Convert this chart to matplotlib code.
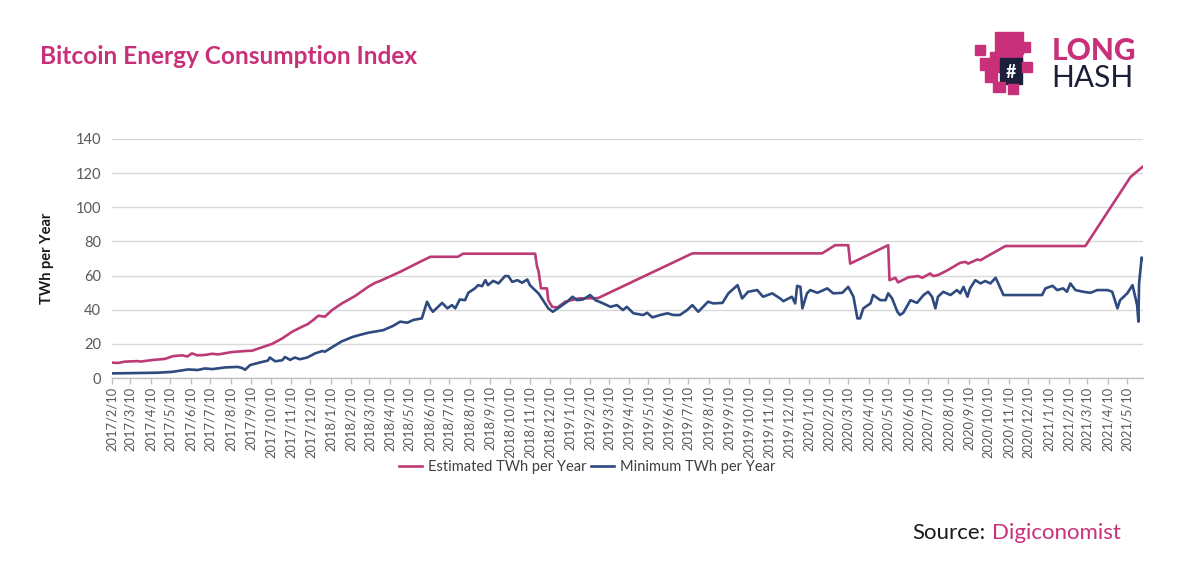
import matplotlib
matplotlib.use("Agg")
import matplotlib.pyplot as plt
import matplotlib.dates as mdates
from matplotlib.ticker import FuncFormatter
from matplotlib.patches import Rectangle
import pandas as pd

# ---------------- data ----------------
est_dates = [
    "2017-02-10", "2017-02-19", "2017-03-02", "2017-03-22", "2017-03-25", "2017-04-12",
    "2017-05-02", "2017-05-14", "2017-05-28", "2017-06-05", "2017-06-12", "2017-06-20",
    "2017-07-02", "2017-07-13", "2017-07-22", "2017-08-12", "2017-09-01", "2017-09-12",
    "2017-09-21", "2017-10-12", "2017-10-28", "2017-11-12", "2017-11-27", "2017-12-06",
    "2017-12-14", "2017-12-22", "2018-01-01", "2018-01-12", "2018-01-27", "2018-02-16",
    "2018-03-08", "2018-03-19", "2018-03-26", "2018-04-26", "2018-05-26", "2018-06-11",
    "2018-07-23", "2018-07-31", "2018-11-18", "2018-11-21", "2018-11-23", "2018-11-27",
    "2018-12-06", "2018-12-08", "2018-12-14", "2018-12-22", "2019-01-03", "2019-01-23",
    "2019-02-22", "2019-07-16", "2020-01-30", "2020-02-19", "2020-03-10", "2020-03-13",
    "2020-05-10", "2020-05-12", "2020-05-21", "2020-05-25", "2020-06-10", "2020-06-25",
    "2020-07-01", "2020-07-13", "2020-07-18", "2020-07-25", "2020-08-08", "2020-08-28",
    "2020-09-05", "2020-09-09", "2020-09-23", "2020-09-28", "2020-10-05", "2020-11-05",
    "2021-03-07", "2021-05-15", "2021-06-02",
]
est_values = [
    9.0, 8.8, 9.6, 9.9, 9.6, 10.5,
    11.2, 12.8, 13.3, 12.6, 14.4, 13.3,
    13.5, 14.2, 13.8, 15.2, 15.8, 16.0,
    17.2, 19.9, 23.2, 27.1, 30.0, 31.6,
    33.9, 36.5, 35.9, 39.8, 43.7, 48.0,
    53.4, 55.8, 56.8, 62.2, 68.0, 71.0,
    71.0, 72.8, 72.8, 65.0, 63.0, 52.5,
    52.5, 45.6, 41.7, 41.3, 44.7, 46.6,
    46.8, 73.0, 73.0, 77.8, 77.8, 67.0,
    77.8, 57.3, 58.7, 56.0, 59.0, 59.7,
    58.7, 61.2, 59.7, 60.3, 63.0, 67.5,
    68.0, 67.0, 69.4, 69.0, 70.6, 77.3,
    77.3, 117.8, 123.6,
]

min_dates = [
    "2017-02-10", "2017-03-02", "2017-04-21", "2017-05-13", "2017-06-06", "2017-06-21",
    "2017-07-02", "2017-07-13", "2017-08-02", "2017-08-21", "2017-08-28", "2017-09-01",
    "2017-09-09", "2017-09-27", "2017-10-06", "2017-10-09", "2017-10-17", "2017-10-28",
    "2017-11-01", "2017-11-09", "2017-11-16", "2017-11-24", "2017-12-05", "2017-12-17",
    "2017-12-28", "2018-01-01", "2018-01-14", "2018-01-27", "2018-02-12", "2018-02-21",
    "2018-03-08", "2018-03-31", "2018-04-15", "2018-04-26", "2018-05-07", "2018-05-16",
    "2018-05-29", "2018-06-06", "2018-06-11", "2018-06-15", "2018-06-29", "2018-07-07",
    "2018-07-14", "2018-07-19", "2018-07-26", "2018-08-03", "2018-08-08", "2018-08-18",
    "2018-08-23", "2018-08-29", "2018-09-03", "2018-09-07", "2018-09-15", "2018-09-23",
    "2018-10-03", "2018-10-08", "2018-10-14", "2018-10-22", "2018-10-29", "2018-11-06",
    "2018-11-10", "2018-11-15", "2018-11-23", "2018-11-30", "2018-12-08", "2018-12-15",
    "2018-12-26", "2019-01-06", "2019-01-14", "2019-01-21", "2019-01-30", "2019-02-10",
    "2019-02-18", "2019-02-28", "2019-03-13", "2019-03-23", "2019-04-01", "2019-04-07",
    "2019-04-17", "2019-05-02", "2019-05-08", "2019-05-16", "2019-05-28", "2019-06-08",
    "2019-06-17", "2019-06-27", "2019-07-08", "2019-07-16", "2019-07-25", "2019-08-09",
    "2019-08-17", "2019-08-31", "2019-09-09", "2019-09-23", "2019-09-30", "2019-10-09",
    "2019-10-23", "2019-11-01", "2019-11-15", "2019-11-27", "2019-12-02", "2019-12-15",
    "2019-12-20", "2019-12-23", "2019-12-28", "2019-12-31", "2020-01-07", "2020-01-12",
    "2020-01-23", "2020-02-07", "2020-02-16", "2020-03-01", "2020-03-10", "2020-03-18",
    "2020-03-24", "2020-03-28", "2020-04-02", "2020-04-13", "2020-04-17", "2020-04-28",
    "2020-05-06", "2020-05-10", "2020-05-16", "2020-05-24", "2020-05-28", "2020-06-02",
    "2020-06-13", "2020-06-23", "2020-07-03", "2020-07-10", "2020-07-16", "2020-07-21",
    "2020-07-25", "2020-08-02", "2020-08-13", "2020-08-23", "2020-08-28", "2020-09-02",
    "2020-09-08", "2020-09-12", "2020-09-20", "2020-09-28", "2020-10-05", "2020-10-13",
    "2020-10-21", "2020-10-25", "2020-11-02", "2020-12-31", "2021-01-05", "2021-01-16",
    "2021-01-23", "2021-02-01", "2021-02-07", "2021-02-12", "2021-02-20", "2021-03-04",
    "2021-03-15", "2021-03-25", "2021-04-10", "2021-04-17", "2021-04-25", "2021-04-29",
    "2021-05-10", "2021-05-18", "2021-05-22", "2021-05-25", "2021-05-27", "2021-05-28",
    "2021-06-01", "2021-06-02",
]
min_values = [
    2.7, 2.8, 3.1, 3.6, 5.0, 4.7,
    5.6, 5.2, 6.2, 6.5, 5.8, 4.8,
    7.6, 9.4, 10.2, 12.0, 9.8, 10.4,
    12.3, 10.6, 12.0, 11.0, 12.0, 14.4,
    15.8, 15.4, 18.5, 21.5, 24.0, 25.0,
    26.5, 28.0, 30.5, 33.0, 32.4, 34.0,
    34.9, 44.7, 40.8, 38.8, 44.0, 40.8,
    42.7, 40.8, 46.0, 45.6, 49.9, 52.5,
    54.4, 53.8, 57.3, 54.4, 56.9, 55.4,
    59.7, 59.7, 56.3, 57.3, 55.8, 57.7,
    54.4, 52.5, 49.6, 45.6, 40.8, 38.8,
    41.7, 44.7, 47.6, 45.6, 46.0, 48.6,
    45.6, 44.0, 41.7, 42.7, 39.8, 41.7,
    37.9, 36.9, 38.2, 35.5, 36.9, 37.9,
    36.9, 36.9, 39.8, 42.7, 38.8, 44.7,
    43.7, 44.0, 49.6, 54.4, 46.6, 50.5,
    51.5, 47.6, 49.6, 46.6, 45.0, 47.6,
    43.7, 54.0, 53.4, 40.8, 49.6, 51.5,
    49.9, 52.5, 49.6, 49.9, 53.4, 47.6,
    34.9, 34.9, 40.8, 43.7, 48.6, 45.6,
    45.6, 49.6, 46.6, 38.8, 36.9, 38.2,
    45.6, 44.0, 48.6, 50.5, 47.6, 40.8,
    47.6, 50.5, 48.6, 51.5, 49.6, 53.4,
    47.6, 52.5, 57.3, 55.4, 56.8, 55.4,
    58.7, 55.4, 48.6, 48.6, 52.5, 54.0,
    51.5, 52.5, 50.5, 55.4, 51.5, 50.5,
    49.9, 51.5, 51.5, 50.5, 40.8, 45.6,
    49.6, 54.4, 47.6, 42.7, 33.0, 55.4,
    70.6, 69.4,
]

series_names = ["Estimated TWh per Year", "Minimum TWh per Year"]
y_ticks = [0, 20, 40, 60, 80, 100, 120, 140]
x_start, x_end = "2017-02-10", "2021-06-03"

# ---------------- styling ----------------
PINK = "#C8317A"
RED_LINE = "#BC3A76"
BLUE_LINE = "#2E4A7E"
NAVY = "#1c1f3a"
GRID = "#D9D9D9"
TICK_TXT = "#595959"
FONT = ["Lato", "DejaVu Sans"]

plt.rcParams["font.family"] = FONT

fig = plt.figure(figsize=(12, 5.71), dpi=100)
ax = fig.add_axes([112 / 1200, 1 - 378 / 571, (1143 - 112) / 1200, (378 - 139) / 571])

ed = pd.to_datetime(est_dates)
md = pd.to_datetime(min_dates)
ax.plot(ed, est_values, color=RED_LINE, lw=1.9, label=series_names[0], solid_joinstyle="round", zorder=3)
ax.plot(md, min_values, color=BLUE_LINE, lw=1.9, label=series_names[1], solid_joinstyle="round", zorder=4)

ax.set_xlim(pd.Timestamp(x_start), pd.Timestamp(x_end))
ax.set_ylim(y_ticks[0], y_ticks[-1])
ax.set_yticks(y_ticks)
ax.yaxis.grid(True, color=GRID, lw=1.0)
ax.set_axisbelow(True)
for s in ["top", "right", "left"]:
    ax.spines[s].set_visible(False)
ax.spines["bottom"].set_color("#BFBFBF")
ax.spines["bottom"].set_linewidth(1.0)

ax.xaxis.set_major_locator(mdates.MonthLocator(bymonthday=10))
ax.xaxis.set_major_formatter(FuncFormatter(
    lambda v, p: (lambda d: f"{d.year}/{d.month}/{d.day}")(mdates.num2date(v))))
ax.tick_params(axis="x", rotation=90, labelsize=9.3, labelcolor=TICK_TXT,
               color="#BFBFBF", length=4, width=1, pad=2)
ax.tick_params(axis="y", labelsize=10.5, labelcolor=TICK_TXT, length=0, pad=8)

ax.set_ylabel("TWh per Year", fontsize=10.5, fontweight="bold", color="#1a1a1a")
ax.yaxis.set_label_coords(-0.056, 0.5)

fig.legend(loc="center", bbox_to_anchor=(587 / 1200, 1 - 467 / 571), ncol=2, frameon=False,
           fontsize=10.5, handlelength=1.6, handletextpad=0.35, columnspacing=0.35,
           labelcolor="#404040")

# title
fig.text(40 / 1200, 1 - 57 / 571, "Bitcoin Energy Consumption Index", color=PINK,
         fontsize=17.6, fontweight="bold", va="center", ha="left")

# source
src = fig.text(912 / 1200, 1 - 533 / 571, "Source:", color="#1a1a1a", fontsize=16,
               va="center", ha="left")
fig.canvas.draw()
bb = src.get_window_extent()
fig.text((bb.x1 + 7) / 1200, 1 - 533 / 571, "Digiconomist", color=PINK, fontsize=16,
         va="center", ha="left")

# logo text
fig.text(1052 / 1200, 1 - 51 / 571, "LONG", color=PINK, fontsize=21.5, fontweight="black",
         va="center", ha="left")
fig.text(1051 / 1200, 1 - 78 / 571, "HASH", color=NAVY, fontsize=21.5, fontweight="normal",
         va="center", ha="left")

# simple blocky logo mascot
blocks = [
    (995, 32, 28, 22, PINK), (1018, 42, 12, 10, PINK), (990, 52, 32, 20, PINK),
    (1000, 58, 22, 26, NAVY), (975, 45, 10, 10, PINK), (980, 58, 12, 12, PINK),
    (985, 70, 12, 12, PINK), (993, 82, 12, 10, PINK), (1008, 84, 10, 10, PINK),
    (1022, 62, 10, 10, PINK),
]
for (x, y, w, h, c) in blocks:
    fig.patches.append(Rectangle((x / 1200, 1 - (y + h) / 571), w / 1200, h / 571,
                                 transform=fig.transFigure, color=c, zorder=1))
fig.text(1011 / 1200, 1 - 72 / 571, "#", color="white", fontsize=13, fontweight="bold",
         ha="center", va="center")

fig.savefig("out.png", dpi=100, facecolor="white")
